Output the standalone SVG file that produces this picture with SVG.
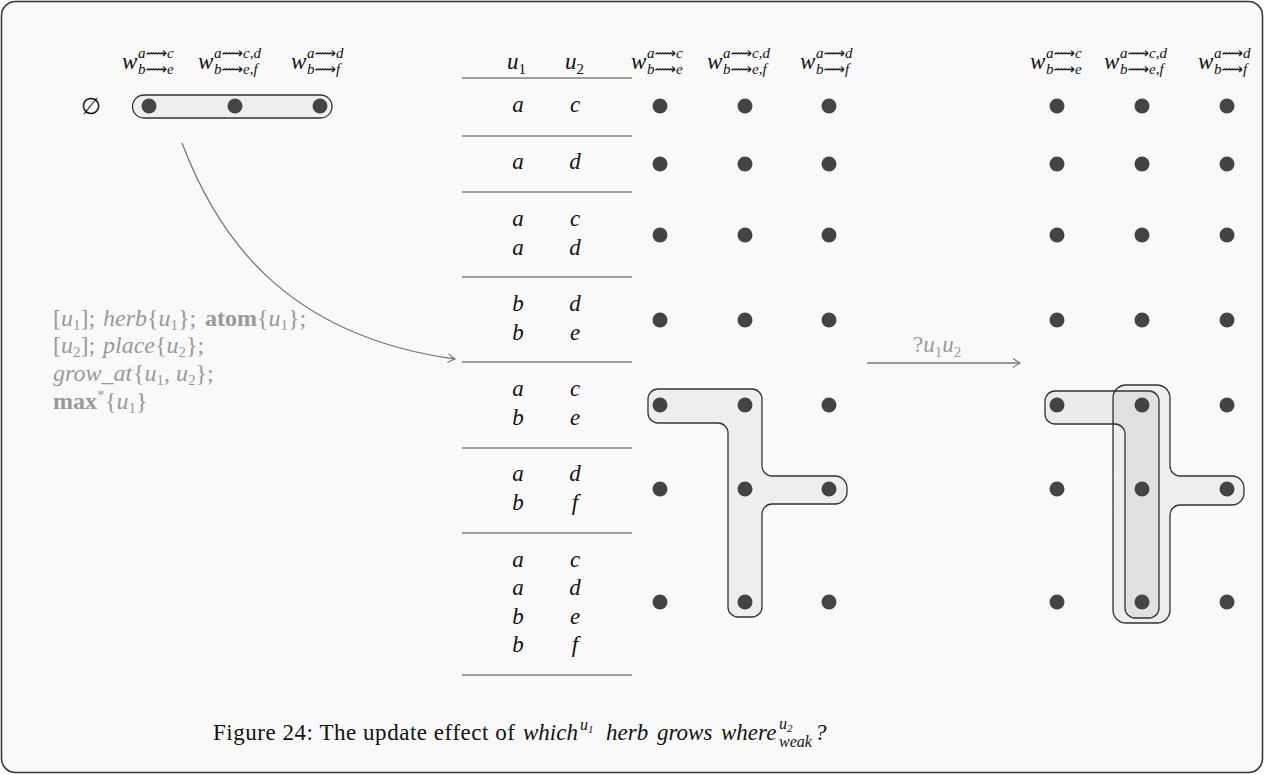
<svg xmlns="http://www.w3.org/2000/svg" width="1266" height="775" viewBox="0 0 1266 775">
  <defs>
    <style>
      .frame { fill: #f9f9f9; stroke: #333; stroke-width: 1.5; }
      .m { font-family: "Liberation Serif", "DejaVu Serif", serif; font-style: italic; font-size: 23px; fill: #111; }
      .p { font-size: 24px; fill: #999; }
      .up { font-style: normal; }
      .bf { font-style: normal; font-weight: bold; }
      .sb { font-size: 15px; font-style: normal; }
      .sc { font-family: "Liberation Serif", "DejaVu Sans", serif; font-style: italic; font-size: 15px; fill: #111; }
      .dot { fill: #444; }
      .rule { stroke: #444; stroke-width: 1.2; }
      .edge { fill: #eeeeee; stroke: #333; stroke-width: 1.3; }
      .edge2 { fill: #000; fill-opacity: 0.055; stroke: #333; stroke-width: 1.3; }
      .gray { fill: #999; }
      .conn { fill: none; stroke: #777; stroke-width: 1.3; }
      .cap { font-family: "Liberation Serif", "DejaVu Serif", serif; font-size: 23px; fill: #111; }
    </style>
    <marker id="arr" viewBox="-9 -6 11 12" markerWidth="11" markerHeight="12" refX="0" refY="0" orient="auto" markerUnits="userSpaceOnUse">
      <path d="M-7,-4.5 Q-2,-1 0,0 Q-2,1 -7,4.5" fill="none" stroke="#777" stroke-width="1.2"/>
    </marker>
    <circle id="d" r="7.5" class="dot"/>
    <!-- column headers: w with its two route scripts -->
    <g id="wl1">
      <text class="m" x="0" y="0">w</text>
      <text class="sc" x="16" y="-11">a⟿c</text>
      <text class="sc" x="16" y="5">b⟿e</text>
    </g>
    <g id="wl2">
      <text class="m" x="0" y="0">w</text>
      <text class="sc" x="16" y="-11">a⟿c,d</text>
      <text class="sc" x="16" y="5">b⟿e,f</text>
    </g>
    <g id="wl3">
      <text class="m" x="0" y="0">w</text>
      <text class="sc" x="16" y="-11">a⟿d</text>
      <text class="sc" x="16" y="5">b⟿f</text>
    </g>
  </defs>

  <rect class="frame" x="1.5" y="1.5" width="1261" height="771" rx="14"/>

  <!-- input state: the empty assignment with one hyperedge over all worlds -->
  <g id="state-empty">
    <use href="#wl1" x="122" y="69"/>
    <use href="#wl2" x="198" y="69"/>
    <use href="#wl3" x="291" y="69"/>
    <text class="m up" x="91" y="114" text-anchor="middle">∅</text>
    <rect class="edge" x="132.5" y="95" width="199.5" height="23" rx="11.5"/>
    <use href="#d" x="149" y="106"/>
    <use href="#d" x="235" y="106"/>
    <use href="#d" x="320" y="106"/>
  </g>

  <!-- program applied to the input state -->
  <g id="program" class="m p">
    <text y="326"><tspan x="53" class="up">[</tspan>u<tspan class="sb" dy="4">1</tspan><tspan class="up" dy="-4">];</tspan><tspan x="103">herb</tspan><tspan class="up">{</tspan>u<tspan class="sb" dy="4">1</tspan><tspan class="up" dy="-4">};</tspan><tspan x="205" class="bf">atom</tspan><tspan class="up">{</tspan>u<tspan class="sb" dy="4">1</tspan><tspan class="up" dy="-4">};</tspan></text>
    <text y="353"><tspan x="53" class="up">[</tspan>u<tspan class="sb" dy="4">2</tspan><tspan class="up" dy="-4">];</tspan><tspan x="103">place</tspan><tspan class="up">{</tspan>u<tspan class="sb" dy="4">2</tspan><tspan class="up" dy="-4">};</tspan></text>
    <text y="381"><tspan x="53">grow_at</tspan><tspan x="133" class="up">{</tspan>u<tspan class="sb" dy="4">1</tspan><tspan class="up" dy="-4">, </tspan>u<tspan class="sb" dy="4">2</tspan><tspan class="up" dy="-4">};</tspan></text>
    <text y="409"><tspan x="53" class="bf">max</tspan><tspan class="up" font-size="15" dy="-9">*</tspan><tspan x="105" class="up" dy="9">{</tspan>u<tspan class="sb" dy="4">1</tspan><tspan class="up" dy="-4">}</tspan></text>
  </g>

  <!-- output table of assignments -->
  <g id="table">
    <text class="m" x="507" y="69">u<tspan class="sb" dy="5">1</tspan></text>
    <text class="m" x="565" y="69">u<tspan class="sb" dy="5">2</tspan></text>
    <g class="rule">
      <line x1="462" y1="78" x2="632" y2="78"/>
      <line x1="462" y1="136" x2="632" y2="136"/>
      <line x1="462" y1="192" x2="632" y2="192"/>
      <line x1="462" y1="277" x2="632" y2="277"/>
      <line x1="462" y1="362" x2="632" y2="362"/>
      <line x1="462" y1="448" x2="632" y2="448"/>
      <line x1="462" y1="533" x2="632" y2="533"/>
      <line x1="462" y1="675" x2="632" y2="675"/>
    </g>
    <g class="m" text-anchor="middle">
      <text x="518" y="112">a</text><text x="575" y="112">c</text>
      <text x="518" y="169">a</text><text x="575" y="169">d</text>
      <text x="518" y="226">a</text><text x="575" y="226">c</text>
      <text x="518" y="255">a</text><text x="575" y="255">d</text>
      <text x="518" y="311">b</text><text x="575" y="311">d</text>
      <text x="518" y="340">b</text><text x="575" y="340">e</text>
      <text x="518" y="396">a</text><text x="575" y="396">c</text>
      <text x="518" y="425">b</text><text x="575" y="425">e</text>
      <text x="518" y="481">a</text><text x="575" y="481">d</text>
      <text x="518" y="510">b</text><text x="575" y="510">f</text>
      <text x="518" y="567">a</text><text x="575" y="567">c</text>
      <text x="518" y="595">a</text><text x="575" y="595">d</text>
      <text x="518" y="624">b</text><text x="575" y="624">e</text>
      <text x="518" y="652">b</text><text x="575" y="652">f</text>
    </g>
  </g>

  <!-- worlds for each assignment after the update -->
  <g id="grid-mid">
    <use href="#wl1" x="631" y="69"/>
    <use href="#wl2" x="707" y="69"/>
    <use href="#wl3" x="800" y="69"/>
    <path class="edge" d="M658,389 H752 A10,10 0 0 1 762,399 V466 A10,10 0 0 0 772,476 H835 A12,12 0 0 1 847,488 V492 A12,12 0 0 1 835,504 H772 A10,10 0 0 0 762,514 V607 A10,10 0 0 1 752,617 H738 A10,10 0 0 1 728,607 V433 A10,10 0 0 0 718,423 H658 A10,10 0 0 1 648,413 V399 A10,10 0 0 1 658,389 Z"/>
    <g>
      <use href="#d" x="660" y="106"/><use href="#d" x="745" y="106"/><use href="#d" x="829" y="106"/>
      <use href="#d" x="660" y="164"/><use href="#d" x="745" y="164"/><use href="#d" x="829" y="164"/>
      <use href="#d" x="660" y="235"/><use href="#d" x="745" y="235"/><use href="#d" x="829" y="235"/>
      <use href="#d" x="660" y="320"/><use href="#d" x="745" y="320"/><use href="#d" x="829" y="320"/>
      <use href="#d" x="660" y="405"/><use href="#d" x="745" y="405"/><use href="#d" x="829" y="405"/>
      <use href="#d" x="660" y="489"/><use href="#d" x="745" y="489"/><use href="#d" x="829" y="489"/>
      <use href="#d" x="660" y="602"/><use href="#d" x="745" y="602"/><use href="#d" x="829" y="602"/>
    </g>
  </g>

  <!-- worlds after the question ?u1u2 -->
  <g id="grid-right">
    <use href="#wl1" x="1030" y="69"/>
    <use href="#wl2" x="1104" y="69"/>
    <use href="#wl3" x="1198" y="69"/>
    <path class="edge" d="M1126,385 H1157 A13,13 0 0 1 1170,398 V466 A10,10 0 0 0 1180,476 H1232 A12,12 0 0 1 1244,488 V493 A12,12 0 0 1 1232,505 H1180 A10,10 0 0 0 1170,515 V610 A13,13 0 0 1 1157,623 H1126 A13,13 0 0 1 1113,610 V398 A13,13 0 0 1 1126,385 Z"/>
    <path class="edge2" d="M1055,391 H1149 A10,10 0 0 1 1159,401 V608 A10,10 0 0 1 1149,618 H1135 A10,10 0 0 1 1125,608 V434 A10,10 0 0 0 1115,424 H1055 A10,10 0 0 1 1045,414 V401 A10,10 0 0 1 1055,391 Z"/>
    <g>
      <use href="#d" x="1057" y="106"/><use href="#d" x="1142" y="106"/><use href="#d" x="1227" y="106"/>
      <use href="#d" x="1057" y="164"/><use href="#d" x="1142" y="164"/><use href="#d" x="1227" y="164"/>
      <use href="#d" x="1057" y="235"/><use href="#d" x="1142" y="235"/><use href="#d" x="1227" y="235"/>
      <use href="#d" x="1057" y="320"/><use href="#d" x="1142" y="320"/><use href="#d" x="1227" y="320"/>
      <use href="#d" x="1057" y="405"/><use href="#d" x="1142" y="405"/><use href="#d" x="1227" y="405"/>
      <use href="#d" x="1057" y="489"/><use href="#d" x="1142" y="489"/><use href="#d" x="1227" y="489"/>
      <use href="#d" x="1057" y="602"/><use href="#d" x="1142" y="602"/><use href="#d" x="1227" y="602"/>
    </g>
  </g>

  <!-- connectors -->
  <g id="connectors">
    <path class="conn" d="M182,143 C215,230 280,335 455,359" marker-end="url(#arr)"/>
    <line class="conn" x1="867" y1="363" x2="1020" y2="363" marker-end="url(#arr)"/>
    <text class="m gray" x="913" y="352"><tspan class="up">?</tspan>u<tspan class="sb" dy="5">1</tspan><tspan dy="-5">u</tspan><tspan class="sb" dy="5">2</tspan></text>
  </g>

  <!-- caption -->
  <g id="caption">
    <text class="cap" x="213" y="740" textLength="302">Figure 24:  The update effect of</text>
    <text class="cap" font-style="italic" y="740"><tspan x="523">which</tspan><tspan x="580" dy="-10" font-size="16">u</tspan><tspan font-size="11" dy="3">1</tspan><tspan x="606" dy="7">herb</tspan><tspan x="657">grows</tspan><tspan x="721">where</tspan><tspan x="779" dy="-11" font-size="16">u</tspan><tspan font-size="11" dy="3">2</tspan><tspan x="779" dy="15" font-size="16">weak</tspan><tspan x="815" dy="-7">?</tspan></text>
  </g>
</svg>
